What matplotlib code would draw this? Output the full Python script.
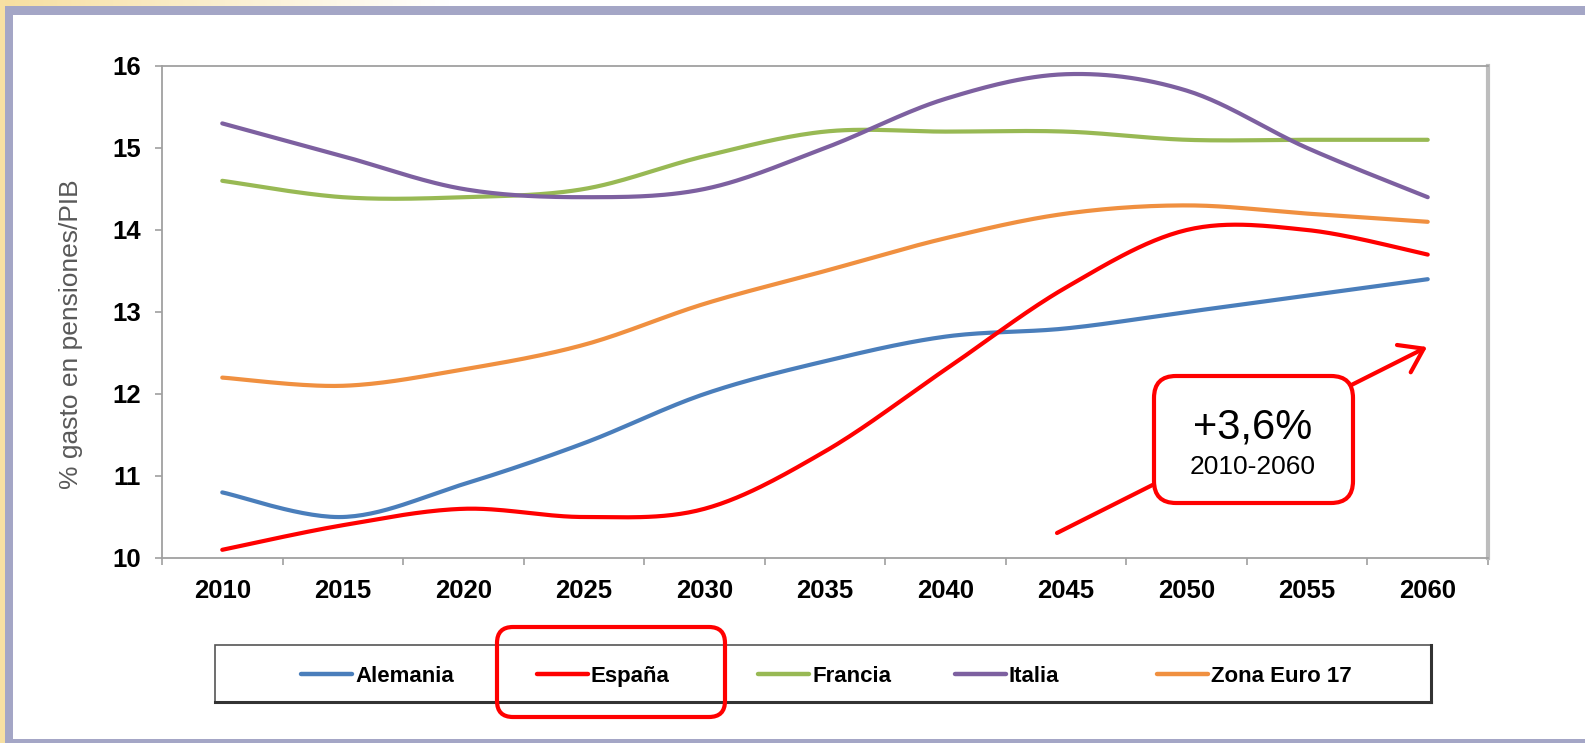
import numpy as np
import matplotlib
matplotlib.use("Agg")
import matplotlib.pyplot as plt
from matplotlib.patches import Rectangle, FancyBboxPatch
from matplotlib.colors import LinearSegmentedColormap

plt.rcParams['font.family'] = ['Liberation Sans', 'DejaVu Sans']

# ---------------- data ----------------
years = ["2010", "2015", "2020", "2025", "2030", "2035", "2040", "2045", "2050", "2055", "2060"]
alemania = [10.8, 10.5, 10.9, 11.4, 12.0, 12.4, 12.7, 12.8, 13.0, 13.2, 13.4]
espana = [10.1, 10.4, 10.6, 10.5, 10.6, 11.3, 12.3, 13.3, 14.0, 14.0, 13.7]
francia = [14.6, 14.4, 14.4, 14.5, 14.9, 15.2, 15.2, 15.2, 15.1, 15.1, 15.1]
italia = [15.3, 14.9, 14.5, 14.4, 14.5, 15.0, 15.6, 15.9, 15.7, 15.0, 14.4]
zona_euro = [12.2, 12.1, 12.3, 12.6, 13.1, 13.5, 13.9, 14.2, 14.3, 14.2, 14.1]
series_names = ["Alemania", "España", "Francia", "Italia", "Zona Euro 17"]
series_values = [alemania, espana, francia, italia, zona_euro]
colors = ["#4A7EBB", "#FF0000", "#98B954", "#7D60A0", "#F09040"]
y_ticks = [10, 11, 12, 13, 14, 15, 16]
ylabel = "% gasto en pensiones/PIB"
note_main = "+3,6%"
note_sub = "2010-2060"

W, H = 1585, 743


def smooth(xs, ys, n=30):
    """Excel-like smoothed line (Catmull-Rom Bezier)."""
    P = np.column_stack([xs, ys]).astype(float)
    out = []
    m = len(P)
    for i in range(m - 1):
        p0 = P[i - 1] if i > 0 else P[i]
        p1 = P[i]
        p2 = P[i + 1]
        p3 = P[i + 2] if i + 2 < m else P[i + 1]
        c1 = p1 + (p2 - p0) / 6.0
        c2 = p2 - (p3 - p1) / 6.0
        t = np.linspace(0, 1, n, endpoint=(i == m - 2))[:, None]
        seg = ((1 - t) ** 3) * p1 + 3 * ((1 - t) ** 2) * t * c1 + 3 * (1 - t) * t ** 2 * c2 + t ** 3 * p2
        out.append(seg)
    out = np.vstack(out)
    return out[:, 0], out[:, 1]


fig = plt.figure(figsize=(W / 100, H / 100), dpi=100)
fig.patch.set_facecolor("white")

# ---------------- background frame ----------------
bg = fig.add_axes([0, 0, 1, 1], zorder=-5)
bg.set_xlim(0, W)
bg.set_ylim(H, 0)
bg.axis("off")
grad = np.linspace(0, 1, 256)[None, :]
cm = LinearSegmentedColormap.from_list("yw", ["#F7DFA0", "#FFFFFF"])
bg.imshow(grad, cmap=cm, extent=(0, 450, 6, 0), aspect="auto")
bg.add_patch(Rectangle((0, 0), 5, H, facecolor="#F7E0A3", edgecolor="none"))
lav = "#A4A6C6"
bg.add_patch(Rectangle((5, 6), W - 5, 9, facecolor=lav, edgecolor="none"))
bg.add_patch(Rectangle((5, 6), 8, H - 6, facecolor=lav, edgecolor="none"))
bg.add_patch(Rectangle((5, 739), W - 5, 4, facecolor=lav, edgecolor="none"))

# ---------------- main axes ----------------
left, right, top, bottom = 162, 1488, 66, 558
ax = fig.add_axes([left / W, 1 - bottom / H, (right - left) / W, (bottom - top) / H])
x = np.arange(len(years))
for name, vals, c in zip(series_names, series_values, colors):
    sx, sy = smooth(x, vals)
    ax.plot(sx, sy, color=c, lw=3.0, solid_capstyle="round", label=name)

ax.set_xlim(-0.5, len(years) - 0.5)
ax.set_ylim(10, 16)
ax.set_yticks(y_ticks)
ax.set_yticklabels([str(v) for v in y_ticks], fontsize=18.5, fontweight="bold")
ax.set_xticks(x)
ax.set_xticklabels(years, fontsize=18.5, fontweight="bold")
ax.set_xticks(np.arange(-0.5, len(years), 1.0), minor=True)
ax.tick_params(axis="x", which="major", length=0, pad=15)
ax.tick_params(axis="x", which="minor", length=5, width=1.2, color="#A0A0A0", direction="out")
ax.tick_params(axis="y", which="major", length=5, width=1.2, color="#A0A0A0", direction="out", pad=10)
for s in ["left", "top", "bottom"]:
    ax.spines[s].set_color("#A0A0A0")
    ax.spines[s].set_linewidth(1.3)
ax.spines["right"].set_color("#BDBDBD")
ax.spines["right"].set_linewidth(3.0)

fig.text(71 / W, 1 - 334 / H, ylabel, rotation=90, ha="center", va="center",
         fontsize=19, color="#595959")

# ---------------- legend (manual) ----------------
lg = fig.add_axes([0, 0, 1, 1], zorder=3)
lg.set_xlim(0, W)
lg.set_ylim(H, 0)
lg.axis("off")
lg.add_patch(Rectangle((215, 645), 1431 - 215, 702 - 645, facecolor="white",
                       edgecolor="#555555", lw=1.2))
lg.plot([215, 1431], [702, 702], color="#333333", lw=2.2)
lg.plot([1431, 1431], [645, 702], color="#333333", lw=2.2)
leg_x = [301, 537, 758, 955, 1157]
for lx, name, c in zip(leg_x, series_names, colors):
    lg.plot([lx, lx + 51], [673.5, 673.5], color=c, lw=3.2, solid_capstyle="round")
    lg.text(lx + 54, 674, name, fontsize=16, fontweight="bold", ha="left",
            va="center_baseline", color="black")

# red highlight box around España
lg.add_patch(FancyBboxPatch((497, 627), 725 - 497, 717 - 627,
                            boxstyle="round,pad=0,rounding_size=16",
                            facecolor="none", edgecolor="#FF0000", lw=3.0, zorder=5))

# ---------------- annotation arrow and box ----------------
lg.annotate("", xy=(1427, 347), xytext=(1057, 533), xycoords="data", textcoords="data",
            arrowprops=dict(arrowstyle="->,head_length=0.8,head_width=0.55", lw=3.0,
                            color="#FF0000", mutation_scale=20, shrinkA=0, shrinkB=0),
            zorder=4)
lg.add_patch(FancyBboxPatch((1154, 376), 1353 - 1154, 503 - 376,
                            boxstyle="round,pad=0,rounding_size=22",
                            facecolor="white", edgecolor="#FF0000", lw=3.0, zorder=6))
lg.text(1253, 428, note_main, fontsize=30, ha="center", va="center", zorder=7)
lg.text(1253, 467, note_sub, fontsize=19, ha="center", va="center", zorder=7)

fig.savefig("out.png", dpi=100)
